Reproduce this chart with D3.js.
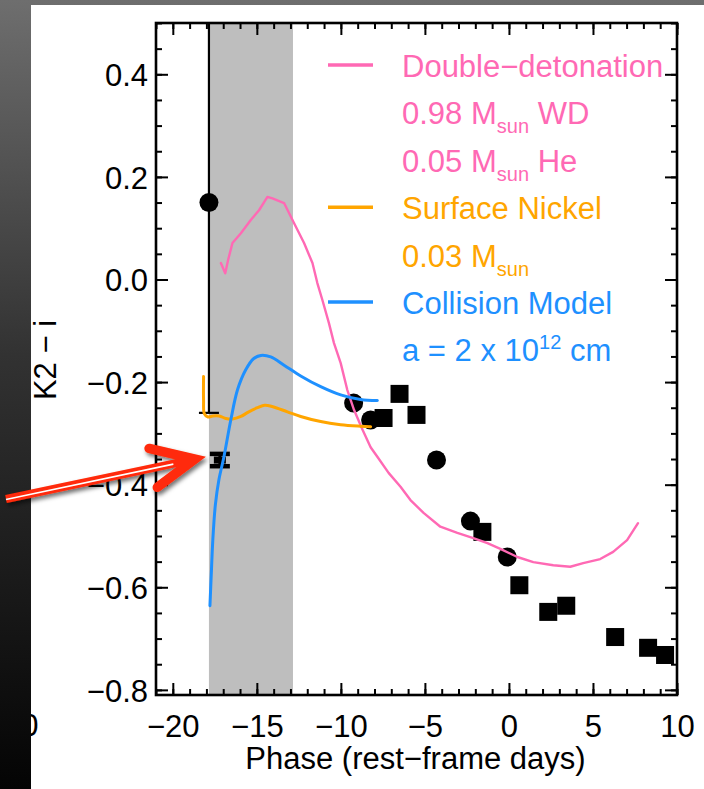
<!DOCTYPE html>
<html>
<head>
<meta charset="utf-8">
<script src="https://cdn.jsdelivr.net/npm/d3@7"></script>
<style>
  html, body { margin: 0; padding: 0; background: #000; overflow: hidden; }
  svg { display: block; }
</style>
</head>
<body>
<svg id="chart" width="704" height="789"></svg>
<script>
// ---- axes ----
const phaseDomain = [-21, 10];
const colorDomain = [-0.81, 0.5];
const phaseTicks = [-20, -15, -10, -5, 0, 5, 10];
const colorTicks = [-0.8, -0.6, -0.4, -0.2, 0.0, 0.2, 0.4];
const earlyWindow = [-17.85, -12.85];

// ---- observed K2 - i colours ----
const circlePhase = [-9.24, -8.23, -4.31, -2.29, -0.10];
const circleColor = [-0.241, -0.274, -0.352, -0.471, -0.541];
const squarePhase = [-7.46, -6.51, -5.50, -1.58, 0.62, 2.34, 3.41, 6.32, 8.28, 9.29];
const squareColor = [-0.270, -0.223, -0.264, -0.492, -0.596, -0.648, -0.636, -0.697, -0.718, -0.732];

// first epoch: large uncertainty
const firstPhase = -17.85;
const firstColor = 0.15;
const firstErr = 0.41;

// early K2 epoch: small uncertainty
const earlyPhase = -17.2;
const earlyColor = -0.352;
const earlyErr = 0.012;

// ---- model curves ----
const ddetPhase = [-17.14, -16.88, -16.71, -16.45, -15.95, -15.36, -14.87, -14.37, -14.07, -13.38,
  -12.79, -12.19, -11.69, -11.40, -11.10, -10.71, -10.41, -10.01, -9.62, -9.22,
  -8.71, -8.23, -7.82, -7.16, -6.45, -5.86, -5.08, -4.08, -3.07, -2.12,
  -1.28, -0.51, 0.50, 1.45, 2.64, 3.65, 4.42, 5.43, 6.20, 7.03, 7.68];
const ddetColor = [0.032, 0.012, 0.038, 0.071, 0.090, 0.116, 0.135, 0.161, 0.158, 0.149,
  0.110, 0.071, 0.032, -0.007, -0.040, -0.085, -0.124, -0.163, -0.215, -0.254,
  -0.293, -0.327, -0.346, -0.377, -0.404, -0.430, -0.455, -0.482, -0.494, -0.504,
  -0.514, -0.525, -0.541, -0.551, -0.557, -0.560, -0.553, -0.545, -0.531, -0.508, -0.475];

const nickelPhase = [-18.17, -18.17, -18.12, -17.91, -17.62, -17.24, -16.84, -16.45, -15.95, -15.48,
  -14.96, -14.53, -14.05, -13.18, -12.39, -11.20, -10.01, -8.83, -8.23];
const nickelColor = [-0.189, -0.235, -0.262, -0.268, -0.266, -0.266, -0.271, -0.272, -0.267, -0.258,
  -0.250, -0.245, -0.248, -0.258, -0.267, -0.277, -0.283, -0.286, -0.287];

const collisionPhase = [-17.79, -17.70, -17.62, -17.47, -17.26, -16.96, -16.55, -16.15, -15.66, -15.18,
  -14.76, -14.17, -13.38, -12.39, -11.20, -10.01, -8.83, -7.83];
const collisionColor = [-0.636, -0.566, -0.508, -0.440, -0.391, -0.346, -0.274, -0.215, -0.176, -0.154,
  -0.148, -0.151, -0.167, -0.188, -0.209, -0.225, -0.234, -0.236];

const PINK = "#ff69b4", ORANGE = "#ffa500", BLUE = "#1e90ff";

// legend rows: [text, mode] pieces
const legendRows = [
  { color: PINK,   swatch: true,  parts: [["Double\u2212detonation", ""]] },
  { color: PINK,   swatch: false, parts: [["0.98 M", ""], ["sun", "sub"], [" WD", ""]] },
  { color: PINK,   swatch: false, parts: [["0.05 M", ""], ["sun", "sub"], [" He", ""]] },
  { color: ORANGE, swatch: true,  parts: [["Surface Nickel", ""]] },
  { color: ORANGE, swatch: false, parts: [["0.03 M", ""], ["sun", "sub"]] },
  { color: BLUE,   swatch: true,  parts: [["Collision Model", ""]] },
  { color: BLUE,   swatch: false, parts: [["a = 2 x 10", ""], ["12", "sup"], [" cm", ""]] }
];

const FONT = "'Liberation Sans', Arial, Helvetica, sans-serif";
const W = 704, H = 789;
const plot = { left: 156, right: 677, top: 23, bottom: 695 };

const svg = d3.select("#chart");
const defs = svg.append("defs");

const bg = defs.append("linearGradient").attr("id", "bg")
  .attr("x1", 0).attr("y1", 0).attr("x2", 0).attr("y2", 1);
bg.append("stop").attr("offset", "0%").attr("stop-color", "#6e6e6e");
bg.append("stop").attr("offset", "45%").attr("stop-color", "#323232");
bg.append("stop").attr("offset", "100%").attr("stop-color", "#040404");

defs.append("clipPath").attr("id", "plotClip").append("rect")
  .attr("x", plot.left).attr("y", plot.top)
  .attr("width", plot.right - plot.left).attr("height", plot.bottom - plot.top);
defs.append("clipPath").attr("id", "panelClip").append("rect")
  .attr("x", 31).attr("y", 5).attr("width", W - 31).attr("height", H - 5);

const shadow = defs.append("filter").attr("id", "shadow")
  .attr("x", "-20%").attr("y", "-40%").attr("width", "140%").attr("height", "180%");
shadow.append("feDropShadow").attr("dx", 2).attr("dy", 3).attr("stdDeviation", 2)
  .attr("flood-color", "#000").attr("flood-opacity", 0.55);

// backdrop and white panel
svg.append("rect").attr("width", W).attr("height", H).attr("fill", "url(#bg)");
svg.append("rect").attr("x", 31).attr("y", 5).attr("width", W - 31).attr("height", H - 5).attr("fill", "#fff");

// stray glyph at the panel edge
svg.append("text").attr("clip-path", "url(#panelClip)")
  .attr("x", 38.5).attr("y", 736).attr("text-anchor", "end")
  .attr("font-family", FONT).attr("font-size", 31).attr("fill", "#000").text("0");

const x = d3.scaleLinear().domain(phaseDomain).range([plot.left, plot.right]);
const y = d3.scaleLinear().domain(colorDomain).range([plot.bottom, plot.top]);

// shaded early window
svg.append("rect")
  .attr("x", x(earlyWindow[0])).attr("y", plot.top)
  .attr("width", x(earlyWindow[1]) - x(earlyWindow[0]))
  .attr("height", plot.bottom - plot.top)
  .attr("fill", "#bebebe");

const gData = svg.append("g").attr("clip-path", "url(#plotClip)");

// first epoch error bar
gData.append("line")
  .attr("x1", x(firstPhase)).attr("x2", x(firstPhase))
  .attr("y1", y(firstColor - firstErr)).attr("y2", y(firstColor + firstErr))
  .attr("stroke", "#000").attr("stroke-width", 2.2);
gData.append("line")
  .attr("x1", x(firstPhase) - 10).attr("x2", x(firstPhase) + 10)
  .attr("y1", y(firstColor - firstErr)).attr("y2", y(firstColor - firstErr))
  .attr("stroke", "#000").attr("stroke-width", 2.2);
gData.append("circle")
  .attr("cx", x(firstPhase)).attr("cy", y(firstColor)).attr("r", 9.5).attr("fill", "#000");

// early K2 epoch
[earlyColor - earlyErr, earlyColor + earlyErr].forEach(v => {
  gData.append("line")
    .attr("x1", x(earlyPhase) - 10).attr("x2", x(earlyPhase) + 10)
    .attr("y1", y(v)).attr("y2", y(v))
    .attr("stroke", "#000").attr("stroke-width", 4.5);
});
gData.append("line")
  .attr("x1", x(earlyPhase)).attr("x2", x(earlyPhase))
  .attr("y1", y(earlyColor - earlyErr)).attr("y2", y(earlyColor + earlyErr))
  .attr("stroke", "#000").attr("stroke-width", 3);
gData.append("rect")
  .attr("x", x(earlyPhase) - 6).attr("y", y(earlyColor) - 3.5)
  .attr("width", 12).attr("height", 7).attr("fill", "#000");

// observed points
gData.selectAll(".circ").data(d3.range(circlePhase.length)).join("circle")
  .attr("cx", i => x(circlePhase[i])).attr("cy", i => y(circleColor[i]))
  .attr("r", 9.5).attr("fill", "#000");
const S = 18;
gData.selectAll(".sq").data(d3.range(squarePhase.length)).join("rect")
  .attr("x", i => x(squarePhase[i]) - S / 2).attr("y", i => y(squareColor[i]) - S / 2)
  .attr("width", S).attr("height", S).attr("fill", "#000");

// model curves
function curve(px, py, color, width, interp) {
  const line = d3.line().x(i => x(px[i])).y(i => y(py[i])).curve(interp);
  gData.append("path").attr("d", line(d3.range(px.length)))
    .attr("fill", "none").attr("stroke", color).attr("stroke-width", width)
    .attr("stroke-linejoin", "round").attr("stroke-linecap", "round");
}
curve(ddetPhase, ddetColor, PINK, 2.4, d3.curveLinear);
curve(nickelPhase, nickelColor, ORANGE, 3, d3.curveCatmullRom);
curve(collisionPhase, collisionColor, BLUE, 3, d3.curveCatmullRom);

// axes on all four sides, ticks pointing inward
function styleAxis(g) {
  g.select(".domain").remove();
  g.selectAll(".tick line").attr("stroke", "#000").attr("stroke-width", 2);
  g.selectAll("text").attr("font-family", FONT).attr("font-size", 31).attr("fill", "#000");
}
const minorPhase = d3.range(-21, 11);
const minorColor = d3.range(-16, 11).map(i => +(i * 0.05).toFixed(2));
const fmtY = d3.format(".1f");

[["bottom", plot.bottom], ["top", plot.top]].forEach(([side, pos]) => {
  const ax = side === "bottom" ? d3.axisBottom : d3.axisTop;
  svg.append("g").attr("transform", `translate(0,${pos})`)
    .call(ax(x).tickValues(minorPhase).tickSize(-6).tickFormat("")).call(styleAxis);
  svg.append("g").attr("transform", `translate(0,${pos})`)
    .call(ax(x).tickValues(phaseTicks).tickSize(-12).tickPadding(20)
      .tickFormat(side === "bottom" ? d3.format("d") : "")).call(styleAxis);
});
[["left", plot.left], ["right", plot.right]].forEach(([side, pos]) => {
  const ax = side === "left" ? d3.axisLeft : d3.axisRight;
  svg.append("g").attr("transform", `translate(${pos},0)`)
    .call(ax(y).tickValues(minorColor).tickSize(-6).tickFormat("")).call(styleAxis);
  const g = svg.append("g").attr("transform", `translate(${pos},0)`)
    .call(ax(y).tickValues(colorTicks).tickSize(-12).tickPadding(8)
      .tickFormat(side === "left" ? fmtY : "")).call(styleAxis);
  g.selectAll("text").attr("dy", "0.36em");
});

// frame
svg.append("rect")
  .attr("x", plot.left).attr("y", plot.top)
  .attr("width", plot.right - plot.left).attr("height", plot.bottom - plot.top)
  .attr("fill", "none").attr("stroke", "#000").attr("stroke-width", 2.6);

// axis titles
svg.append("text")
  .attr("x", (plot.left + plot.right) / 2 - 1).attr("y", 769)
  .attr("text-anchor", "middle").attr("font-family", FONT).attr("font-size", 31)
  .text("Phase (rest\u2212frame days)");
svg.append("text")
  .attr("transform", "translate(56,360) rotate(-90)")
  .attr("text-anchor", "middle").attr("font-family", FONT).attr("font-size", 31)
  .text("K2 \u2212 i");

// legend
const lg = svg.append("g");
legendRows.forEach((row, i) => {
  const base = 77 + i * 47.4;
  if (row.swatch) {
    lg.append("line").attr("x1", 328).attr("x2", 373)
      .attr("y1", base - 12).attr("y2", base - 12)
      .attr("stroke", row.color).attr("stroke-width", 3.5);
  }
  const t = lg.append("text").attr("x", 402).attr("y", base)
    .attr("font-family", FONT).attr("font-size", 31).attr("fill", row.color);
  let shift = 0;
  row.parts.forEach(([txt, mode]) => {
    const target = mode === "sub" ? 9 : mode === "sup" ? -12 : 0;
    t.append("tspan").attr("dy", target - shift)
      .attr("font-size", mode ? 20 : 31).text(txt);
    shift = target;
  });
});

// annotation arrow pointing at the early K2 epoch
const tip = [x(earlyPhase) - 25, y(earlyColor) - 1];
const tail = [6, 499];
const dx = tip[0] - tail[0], dy = tip[1] - tail[1];
const len = Math.hypot(dx, dy);
const ux = dx / len, uy = dy / len;
const armLen = 47, armAng = 25 * Math.PI / 180;
function rot(vx, vy, a) { return [vx * Math.cos(a) - vy * Math.sin(a), vx * Math.sin(a) + vy * Math.cos(a)]; }
const a1 = rot(-ux, -uy, armAng), a2 = rot(-ux, -uy, -armAng);
const arrow = svg.append("g").attr("filter", "url(#shadow)");
const RED = "#ff2a08";
arrow.append("line")
  .attr("x1", tail[0]).attr("y1", tail[1])
  .attr("x2", tip[0] - ux * 6).attr("y2", tip[1] - uy * 6)
  .attr("stroke", RED).attr("stroke-width", 8);
arrow.append("path")
  .attr("d", `M${tip[0] + a1[0] * armLen},${tip[1] + a1[1] * armLen} L${tip[0]},${tip[1]} L${tip[0] + a2[0] * armLen},${tip[1] + a2[1] * armLen}`)
  .attr("fill", "none").attr("stroke", RED).attr("stroke-width", 9.5)
  .attr("stroke-linejoin", "miter").attr("stroke-linecap", "round");
arrow.append("line")
  .attr("x1", tail[0]).attr("y1", tail[1] + 0.5)
  .attr("x2", tip[0] - ux * 22).attr("y2", tip[1] - uy * 22 + 0.5)
  .attr("stroke", "#fff").attr("stroke-width", 1.6);
</script>
</body>
</html>
